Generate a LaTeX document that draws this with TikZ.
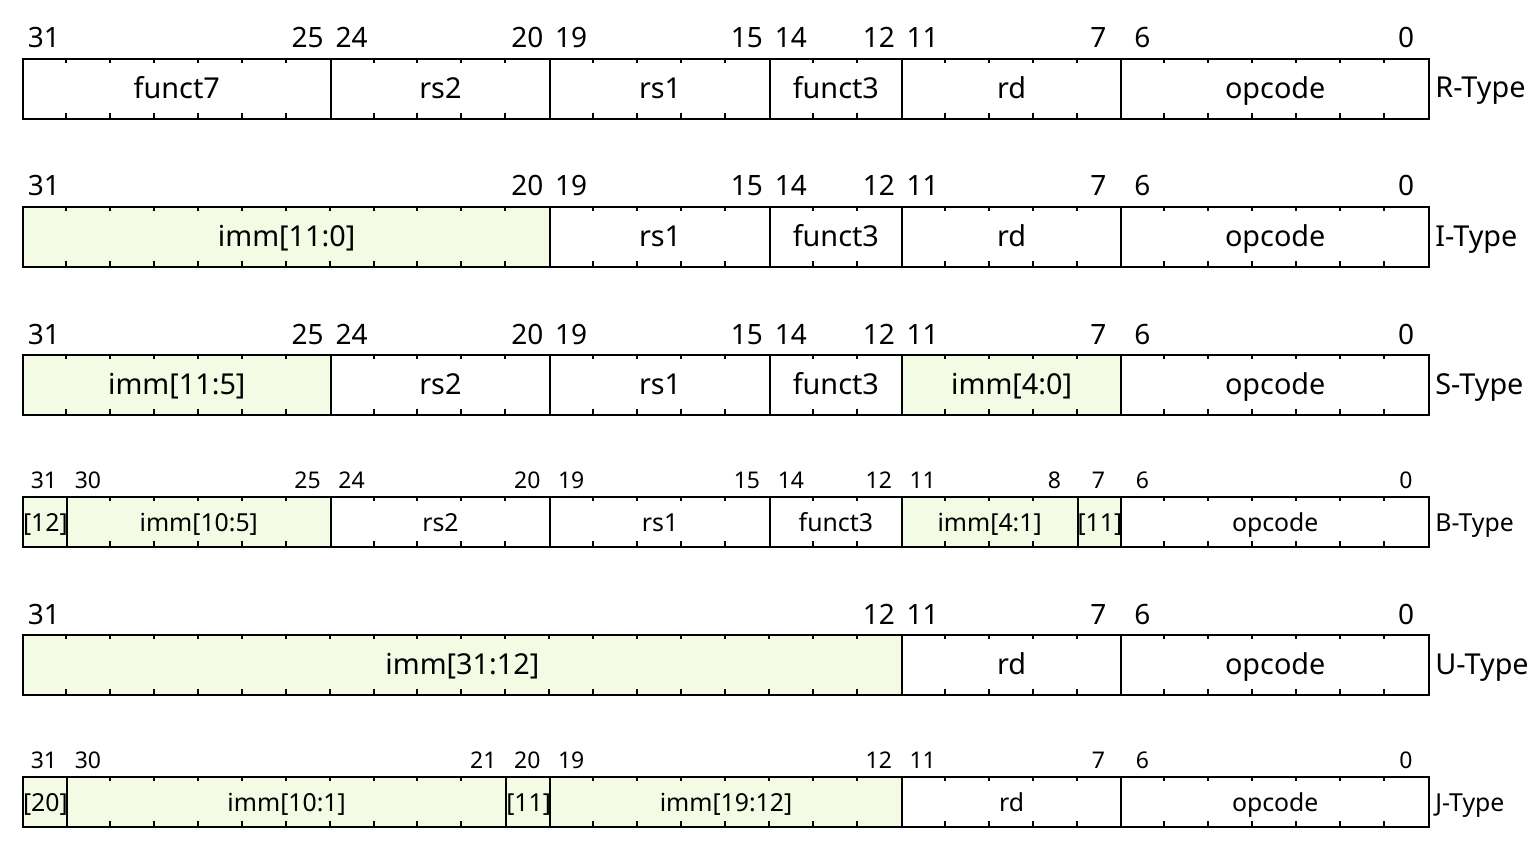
\documentclass[tikz,border=0pt]{standalone}
\usepackage{fontspec}
\setmainfont{Noto Sans}
\definecolor{immfill}{RGB}{244,251,228}

\tikzset{
  fieldbox/.style={draw=black, line width=1pt, inner sep=0pt, anchor=north west,
                   font=\fieldfont, text height=0.92em, text depth=0pt},
  immbox/.style={fieldbox, fill=immfill},
  plainbox/.style={fieldbox, fill=white},
  tickline/.style={line width=1pt},
  bitlab/.style={inner sep=0pt, anchor=base, font=\bitfont},
  typelab/.style={inner sep=0pt, anchor=west, font=\fieldfont, text height=1.0em, text depth=0pt},
}

% row settings: top edge, height, gap from top edge to bit-number baseline, fonts
\newcommand{\bigrow}[1]{\def\rowtop{#1}\def\rowh{60}\def\labgap{10}%
  \def\fieldfont{\fontsize{14.4}{16}\selectfont}\def\bitfont{\fontsize{14}{16}\selectfont}}
\newcommand{\smallrow}[1]{\def\rowtop{#1}\def\rowh{50}\def\labgap{8}%
  \def\fieldfont{\fontsize{12.4}{14}\selectfont}\def\bitfont{\fontsize{11.5}{13}\selectfont}}

% one bit field: name, high bit, low bit, text, box style
\newcommand{\fld}[5]{%
  \pgfmathsetmacro{\fxl}{22+(31-#2)*43.9375}%
  \pgfmathsetmacro{\fxr}{22+(32-#3)*43.9375}%
  \pgfmathsetmacro{\fwid}{(\fxr-\fxl)*0.5}%
  \pgfmathsetmacro{\fhgt}{\rowh*0.5}%
  \node[#5, minimum width=\fwid pt, minimum height=\fhgt pt] (#1) at (\fxl,\rowtop) {#4};
  \ifnum#2>#3
    \pgfmathtruncatemacro{\kfirst}{#3+1}%
    \foreach \k in {\kfirst,...,#2}{%
      \pgfmathsetmacro{\tx}{22+(32-\k)*43.9375}%
      \draw[tickline] (\tx,\rowtop) -- ++(0,5) (\tx,\rowtop+\rowh) -- ++(0,-5);
    }%
    \node[bitlab] (#1-lo) at ({22+(31.5-#3)*43.9375},\rowtop-\labgap) {#3};
  \fi
  \node[bitlab] (#1-hi) at ({22+(31.5-#2)*43.9375},\rowtop-\labgap) {#2};
}
\newcommand{\typename}[2]{%
  \node[typelab] (#1) at (1435,\rowtop+\rowh/2) {#2};}

\begin{document}
\begin{tikzpicture}[x=0.5pt, y=-0.5pt]
\fill[white] (0,0) rectangle (1540,850);
\useasboundingbox (0,0) rectangle (1540,850);

% R-Type
\bigrow{58}
\fld{rf7}{31}{25}{funct7}{plainbox}
\fld{rrs2}{24}{20}{rs2}{plainbox}
\fld{rrs1}{19}{15}{rs1}{plainbox}
\fld{rf3}{14}{12}{funct3}{plainbox}
\fld{rrd}{11}{7}{rd}{plainbox}
\fld{rop}{6}{0}{opcode}{plainbox}
\typename{rtype}{R-Type}

% I-Type
\bigrow{206}
\fld{iimm}{31}{20}{imm[11:0]}{immbox}
\fld{irs1}{19}{15}{rs1}{plainbox}
\fld{if3}{14}{12}{funct3}{plainbox}
\fld{ird}{11}{7}{rd}{plainbox}
\fld{iop}{6}{0}{opcode}{plainbox}
\typename{itype}{I-Type}

% S-Type
\bigrow{354}
\fld{simmh}{31}{25}{imm[11:5]}{immbox}
\fld{srs2}{24}{20}{rs2}{plainbox}
\fld{srs1}{19}{15}{rs1}{plainbox}
\fld{sf3}{14}{12}{funct3}{plainbox}
\fld{simml}{11}{7}{imm[4:0]}{immbox}
\fld{sop}{6}{0}{opcode}{plainbox}
\typename{stype}{S-Type}

% B-Type
\smallrow{496}
\fld{bimma}{31}{31}{[12]}{immbox}
\fld{bimmb}{30}{25}{imm[10:5]}{immbox}
\fld{brs2}{24}{20}{rs2}{plainbox}
\fld{brs1}{19}{15}{rs1}{plainbox}
\fld{bf3}{14}{12}{funct3}{plainbox}
\fld{bimmc}{11}{8}{imm[4:1]}{immbox}
\fld{bimmd}{7}{7}{[11]}{immbox}
\fld{bop}{6}{0}{opcode}{plainbox}
\typename{btype}{B-Type}

% U-Type
\bigrow{634}
\fld{uimm}{31}{12}{imm[31:12]}{immbox}
\fld{urd}{11}{7}{rd}{plainbox}
\fld{uop}{6}{0}{opcode}{plainbox}
\typename{utype}{U-Type}

% J-Type
\smallrow{776}
\fld{jimma}{31}{31}{[20]}{immbox}
\fld{jimmb}{30}{21}{imm[10:1]}{immbox}
\fld{jimmc}{20}{20}{[11]}{immbox}
\fld{jimmd}{19}{12}{imm[19:12]}{immbox}
\fld{jrd}{11}{7}{rd}{plainbox}
\fld{jop}{6}{0}{opcode}{plainbox}
\typename{jtype}{J-Type}
\end{tikzpicture}
\end{document}
